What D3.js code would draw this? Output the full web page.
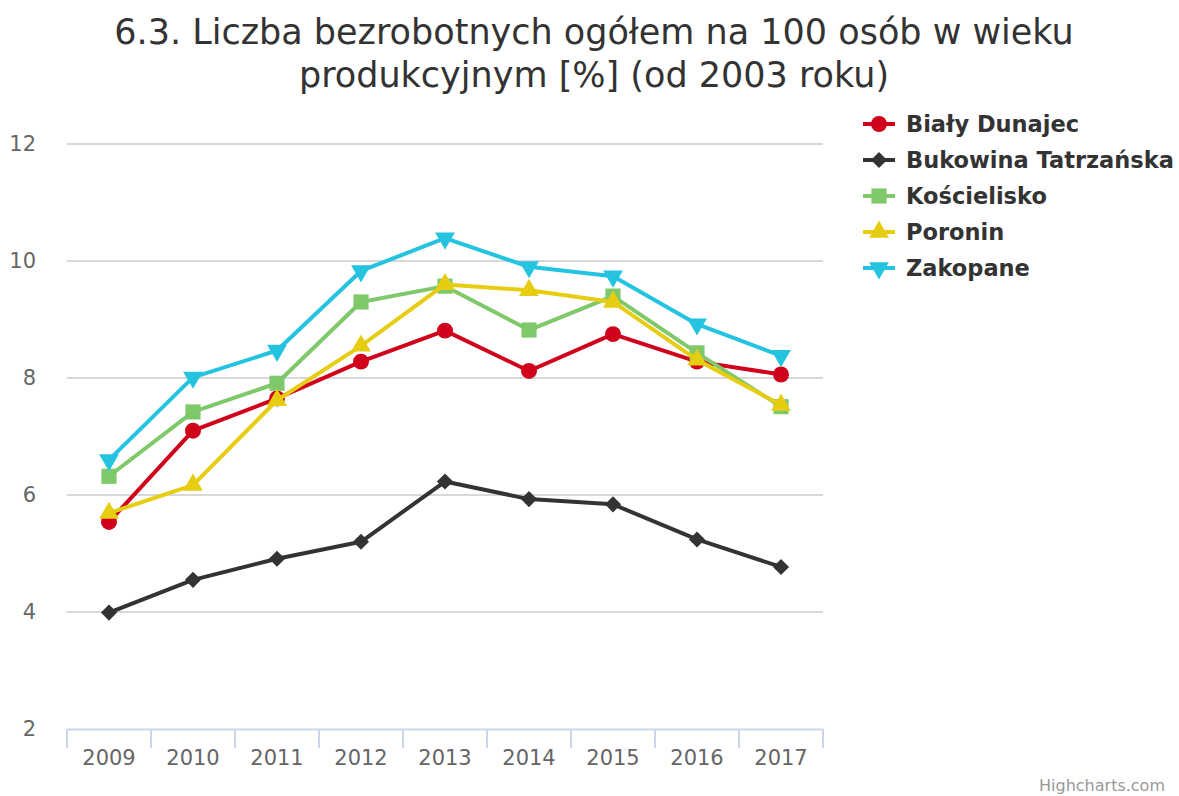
<!DOCTYPE html>
<html>
<head>
<meta charset="utf-8">
<script src="https://cdn.jsdelivr.net/npm/d3@7"></script>
<style>
  body { margin: 0; background: #fff; }
  svg { font-family: "DejaVu Sans", sans-serif; }
</style>
</head>
<body>
<div id="chart"></div>
<script>
var years = ["2009","2010","2011","2012","2013","2014","2015","2016","2017"];
var seriesNames = ["Biały Dunajec","Bukowina Tatrzańska","Kościelisko","Poronin","Zakopane"];
var bialyDunajec = [5.54, 7.10, 7.65, 8.28, 8.81, 8.12, 8.75, 8.28, 8.06];
var bukowina     = [3.99, 4.55, 4.91, 5.20, 6.23, 5.93, 5.84, 5.24, 4.77];
var koscielisko  = [6.32, 7.42, 7.91, 9.30, 9.57, 8.82, 9.40, 8.43, 7.51];
var poronin      = [5.69, 6.17, 7.62, 8.55, 9.60, 9.50, 9.30, 8.31, 7.54];
var zakopane     = [6.60, 8.01, 8.47, 9.83, 10.39, 9.90, 9.74, 8.92, 8.38];
var yTicks = [2, 4, 6, 8, 10, 12];
var titleLines = ["6.3. Liczba bezrobotnych ogółem na 100 osób w wieku", "produkcyjnym [%] (od 2003 roku)"];

var colors = ["#d0021b", "#333333", "#80c96b", "#e6cd12", "#24c3e0"];
var symbols = [d3.symbolCircle, d3.symbolSquare, d3.symbolSquare, d3.symbolTriangle, d3.symbolTriangle];
var symbolSizes = [200, 130, 230, 170, 170];
var rotations = [0, 45, 0, 0, 180];
var allValues = [bialyDunajec, bukowina, koscielisko, poronin, zakopane];

var series = seriesNames.map(function(n, i) {
  return {name: n, values: allValues[i], color: colors[i], symbol: symbols[i], size: symbolSizes[i], rot: rotations[i]};
});

var W = 1179, H = 796;
var margin = {top: 144, left: 67, right: 356, bottom: 67};

var svg = d3.select("#chart").append("svg")
  .attr("width", W).attr("height", H);

// title
svg.append("text")
  .attr("text-anchor", "middle")
  .attr("fill", "#333")
  .style("font-size", "35px")
  .selectAll("tspan").data(titleLines).enter()
  .append("tspan")
    .attr("x", 594)
    .attr("y", function(d, i) { return 44 + i * 43; })
    .text(function(d) { return d; });

var x = d3.scaleBand().domain(years).range([margin.left, W - margin.right]);
var y = d3.scaleLinear().domain([2, 12]).range([H - margin.bottom, margin.top]);

// gridlines
svg.append("g").selectAll("line").data(yTicks.slice(1)).enter()
  .append("line")
    .attr("x1", margin.left).attr("x2", W - margin.right)
    .attr("y1", function(d) { return y(d); })
    .attr("y2", function(d) { return y(d); })
    .attr("stroke", "#d8d8d8").attr("stroke-width", 2);

// y labels
svg.append("g").selectAll("text").data(yTicks).enter()
  .append("text")
    .attr("x", 36)
    .attr("y", function(d) { return y(d); })
    .attr("dy", "0.35em")
    .attr("text-anchor", "end")
    .attr("fill", "#666")
    .style("font-size", "21px")
    .text(function(d) { return d; });

// x axis
var xAxis = d3.axisBottom(x).tickSize(0);
var gx = svg.append("g")
  .attr("transform", "translate(0," + y(2) + ")")
  .call(xAxis);
gx.select(".domain").attr("stroke", "#ccd6eb").attr("stroke-width", 2);
gx.selectAll("text").attr("fill", "#666").style("font-size", "21px")
  .style("font-family", "DejaVu Sans, sans-serif")
  .attr("y", 21);

// tick marks on category boundaries
var bounds = years.map(function(d) { return x(d); }).concat([x(years[years.length - 1]) + x.bandwidth()]);
gx.selectAll(".bound").data(bounds).enter()
  .append("line")
    .attr("x1", function(d) { return d; })
    .attr("x2", function(d) { return d; })
    .attr("y1", 0).attr("y2", 19)
    .attr("stroke", "#ccd6eb").attr("stroke-width", 2);

var cx = function(d, i) { return x(years[i]) + x.bandwidth() / 2; };

var line = d3.line()
  .x(cx)
  .y(function(d) { return y(d); });

var sg = svg.append("g").selectAll("g").data(series).enter().append("g");

sg.append("path")
  .attr("d", function(s) { return line(s.values); })
  .attr("fill", "none")
  .attr("stroke", function(s) { return s.color; })
  .attr("stroke-width", 4)
  .attr("stroke-linejoin", "round")
  .attr("stroke-linecap", "round");

sg.each(function(s) {
  d3.select(this).selectAll("path.m").data(s.values).enter()
    .append("path")
      .attr("class", "m")
      .attr("d", d3.symbol().type(s.symbol).size(s.size))
      .attr("fill", s.color)
      .attr("transform", function(d, i) {
        return "translate(" + cx(d, i) + "," + y(d) + ") rotate(" + s.rot + ")";
      });
});

// legend
var lg = svg.append("g").selectAll("g").data(series).enter()
  .append("g")
    .attr("transform", function(s, i) { return "translate(863," + (124 + i * 36) + ")"; });

lg.append("line")
  .attr("x1", 0).attr("x2", 32)
  .attr("stroke", function(s) { return s.color; })
  .attr("stroke-width", 4);

lg.append("path")
  .attr("d", function(s) { return d3.symbol().type(s.symbol).size(s.size)(); })
  .attr("fill", function(s) { return s.color; })
  .attr("transform", function(s) { return "translate(16,0) rotate(" + s.rot + ")"; });

lg.append("text")
  .attr("x", 43)
  .attr("dy", "0.35em")
  .attr("fill", "#333")
  .style("font-size", "22.5px")
  .style("font-weight", "bold")
  .text(function(s) { return s.name; });

// credits
svg.append("text")
  .attr("x", 1165).attr("y", 791)
  .attr("text-anchor", "end")
  .attr("fill", "#999")
  .style("font-size", "16px")
  .text("Highcharts.com");
</script>
</body>
</html>
